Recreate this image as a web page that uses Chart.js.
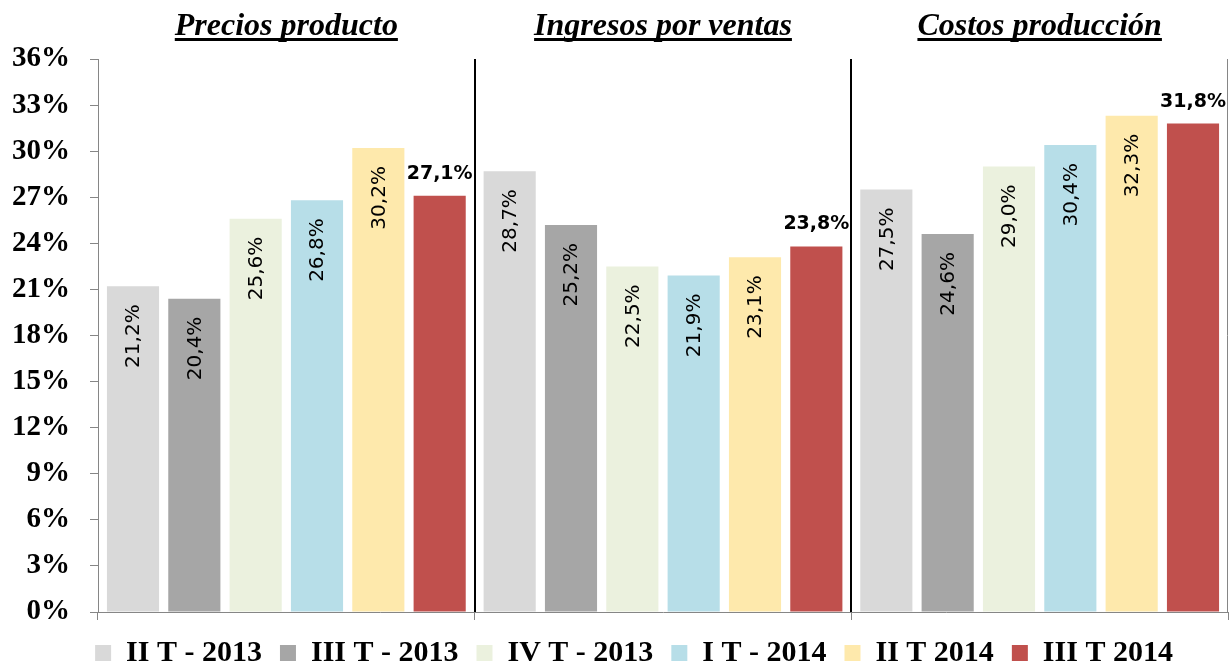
<!DOCTYPE html>
<html>
<head>
<meta charset="utf-8">
<script src="https://cdn.jsdelivr.net/npm/chart.js@4.4.1/dist/chart.umd.min.js"></script>
<style>
    html, body { margin: 0; padding: 0; background: #ffffff; }
    #wrap { width: 1229px; height: 663px; }
</style>
</head>
<body>
<div id="wrap"><canvas id="variacionChart"></canvas></div>
<script>
// ==================== DATA ====================

const categories = ['Precios producto', 'Ingresos por ventas', 'Costos producción'];
const seriesNames = ['II T - 2013', 'III T - 2013', 'IV T - 2013', 'I T - 2014', 'II T 2014', 'III T 2014'];
const seriesColors = ['#D9D9D9', '#A6A6A6', '#EBF1DE', '#B7DEE8', '#FEE9AC', '#C0504D'];

const iiT2013 = [21.2, 28.7, 27.5];
const iiiT2013 = [20.4, 25.2, 24.6];
const ivT2013 = [25.6, 22.5, 29.0];
const iT2014 = [26.8, 21.9, 30.4];
const iiT2014 = [30.2, 23.1, 32.3];
const iiiT2014 = [27.1, 23.8, 31.8];

const yTicks = [0, 3, 6, 9, 12, 15, 18, 21, 24, 27, 30, 33, 36];

const seriesValues = [iiT2013, iiiT2013, ivT2013, iT2014, iiT2014, iiiT2014];

// ==================== HELPERS ====================

function formatPct(v) {
    return v.toFixed(1).replace('.', ',') + '%';
}

// group titles above each category, bold italic underlined
const groupTitlesPlugin = {
    id: 'groupTitles',
    afterDraw(chart) {
        const ctx = chart.ctx;
        const xScale = chart.scales.x;
        ctx.save();
        ctx.font = 'italic bold 32px "Liberation Serif", "Times New Roman", serif';
        ctx.fillStyle = '#000000';
        ctx.textAlign = 'center';
        ctx.textBaseline = 'alphabetic';
        categories.forEach((cat, i) => {
            const cx = xScale.getPixelForValue(i);
            ctx.fillText(cat, cx, 35);
            const w = ctx.measureText(cat).width;
            ctx.fillRect(cx - w / 2, 38, w, 3);
        });
        ctx.restore();
    }
};

// separators between groups and right border
const separatorsPlugin = {
    id: 'separators',
    afterDatasetsDraw(chart) {
        const ctx = chart.ctx;
        const area = chart.chartArea;
        const xScale = chart.scales.x;
        ctx.save();
        ctx.strokeStyle = '#000000';
        ctx.lineWidth = 2;
        for (let i = 1; i < categories.length; i++) {
            const x = Math.round((xScale.getPixelForValue(i - 1) + xScale.getPixelForValue(i)) / 2);
            ctx.beginPath();
            ctx.moveTo(x, area.top);
            ctx.lineTo(x, area.bottom);
            ctx.stroke();
        }
        ctx.strokeStyle = '#868686';
        ctx.lineWidth = 1;
        ctx.beginPath();
        ctx.moveTo(area.right - 0.5, area.top);
        ctx.lineTo(area.right - 0.5, area.bottom);
        ctx.stroke();
        ctx.restore();
    }
};

// value labels: vertical inside bars, last series bold above the bar
const valueLabelsPlugin = {
    id: 'valueLabels',
    afterDatasetsDraw(chart) {
        const ctx = chart.ctx;
        ctx.save();
        ctx.fillStyle = '#000000';
        chart.data.datasets.forEach((ds, di) => {
            const meta = chart.getDatasetMeta(di);
            meta.data.forEach((bar, i) => {
                const text = formatPct(ds.data[i]);
                if (di === chart.data.datasets.length - 1) {
                    ctx.font = 'bold 19px "DejaVu Sans", Verdana, sans-serif';
                    ctx.textAlign = 'center';
                    ctx.textBaseline = 'alphabetic';
                    ctx.fillText(text, bar.x, bar.y - 17);
                } else {
                    ctx.font = '20px "DejaVu Sans", Verdana, sans-serif';
                    ctx.save();
                    ctx.translate(bar.x, bar.y + 18);
                    ctx.rotate(-Math.PI / 2);
                    ctx.textAlign = 'right';
                    ctx.textBaseline = 'middle';
                    ctx.fillText(text, 0, 1);
                    ctx.restore();
                }
            });
        });
        ctx.restore();
    }
};

// legend: tighter box under the axis, shifted right like the original
const legendFitPlugin = {
    id: 'legendFit',
    beforeLayout(chart) {
        const legend = chart.legend;
        if (!legend || legend._patched) return;
        const origFit = legend.fit;
        legend.fit = function () {
            origFit.call(this);
            this.height = 43;
        };
        legend._patched = true;
    },
    afterLayout(chart) {
        if (chart.legend) chart.legend.left += 40;
    }
};

// ==================== CHART ====================

function renderChart() {
    const ctx = document.getElementById('variacionChart');

    const datasets = seriesNames.map((name, i) => ({
        label: name,
        data: seriesValues[i],
        backgroundColor: seriesColors[i],
        borderWidth: 0,
        categoryPercentage: 0.977,
        barPercentage: 0.85
    }));

    new Chart(ctx, {
        type: 'bar',
        data: {
            labels: categories,
            datasets: datasets
        },
        plugins: [groupTitlesPlugin, separatorsPlugin, valueLabelsPlugin, legendFitPlugin],
        options: {
            responsive: true,
            maintainAspectRatio: false,
            animation: false,
            layout: {
                padding: { top: 59, right: 1, left: 0, bottom: 0 }
            },
            scales: {
                x: {
                    offset: true,
                    grid: {
                        offset: true,
                        drawOnChartArea: false,
                        drawTicks: true,
                        tickLength: 8,
                        color: '#868686'
                    },
                    border: { color: '#868686', width: 1 },
                    ticks: { display: false }
                },
                y: {
                    min: 0,
                    max: 36,
                    afterBuildTicks: axis => {
                        axis.ticks = yTicks.map(v => ({ value: v }));
                    },
                    afterFit: axis => {
                        axis.width = 98;
                    },
                    grid: {
                        drawOnChartArea: false,
                        drawTicks: true,
                        tickLength: 8,
                        color: '#868686'
                    },
                    border: { color: '#868686', width: 1 },
                    ticks: {
                        padding: 20,
                        color: '#000000',
                        font: {
                            family: '"Liberation Serif", "Times New Roman", serif',
                            size: 29,
                            weight: 'bold'
                        },
                        callback: value => value + '%'
                    }
                }
            },
            plugins: {
                legend: {
                    display: true,
                    position: 'bottom',
                    labels: {
                        boxWidth: 16,
                        boxHeight: 16,
                        padding: 18,
                        color: '#000000',
                        font: {
                            family: '"Liberation Serif", "Times New Roman", serif',
                            size: 30,
                            weight: 'bold'
                        }
                    }
                },
                tooltip: { enabled: false }
            }
        }
    });
}

renderChart();
</script>
</body>
</html>
